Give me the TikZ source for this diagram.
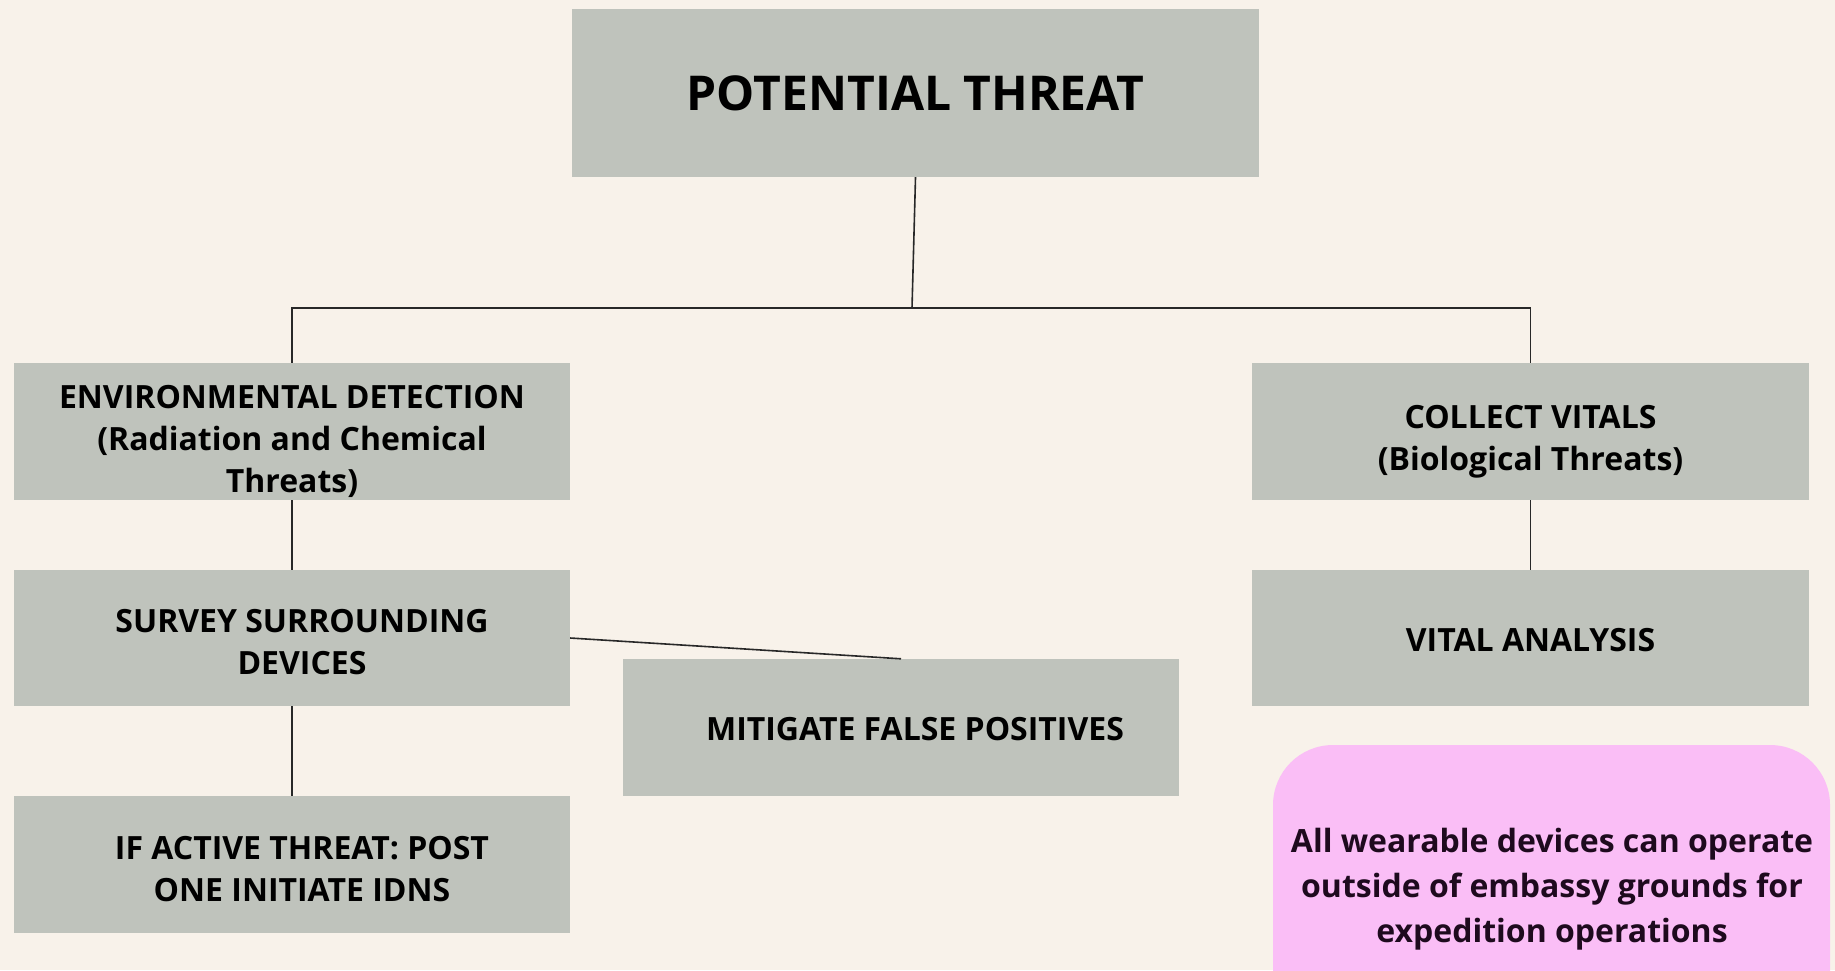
\documentclass[tikz,border=0pt]{standalone}
\usepackage{fontspec}
\setmainfont{Open Sans}
\definecolor{bg}{RGB}{248,242,234}
\definecolor{boxgray}{RGB}{191,195,188}
\definecolor{notepink}{RGB}{250,190,246}
\definecolor{linegray}{RGB}{40,40,40}
\begin{document}
\begin{tikzpicture}[x=1pt,y=-1pt,
  box/.style={fill=boxgray, draw=none, inner sep=0pt},
  txt/.style={inner sep=0pt, align=center,
    font=\bfseries\fontsize{32}{42}\selectfont, text=black},
  conn/.style={draw=linegray, line width=1.6pt}]
\fill[bg] (0,0) rectangle (1835,970);
\useasboundingbox (0,0) rectangle (1835,970);
% boxes
\node[box, minimum width=687pt, minimum height=168pt] (top) at (915.5,93) {};
\node[box, minimum width=556pt, minimum height=137pt] (env) at (292,431.5) {};
\node[box, minimum width=556pt, minimum height=136pt] (survey) at (292,638) {};
\node[box, minimum width=556pt, minimum height=137pt] (active) at (292,864.5) {};
\node[box, minimum width=556pt, minimum height=137pt] (mitig) at (901,727.5) {};
\node[box, minimum width=557pt, minimum height=137pt] (collect) at (1530.5,431.5) {};
\node[box, minimum width=557pt, minimum height=136pt] (vital) at (1530.5,638) {};
% texts
\node[txt, font=\bfseries\fontsize{48}{52}\selectfont] (topT) at (top.center) {POTENTIAL THREAT};
\node[txt, yshift=-10pt] (envT) at (env.center) {ENVIRONMENTAL DETECTION\\(Radiation and Chemical\\Threats)};
\node[txt, xshift=10pt, yshift=-4pt] (surveyT) at (survey.center) {SURVEY SURROUNDING\\DEVICES};
\node[txt, xshift=10pt, yshift=-5pt] (activeT) at (active.center) {IF ACTIVE THREAT: POST\\ONE INITIATE IDNS};
\node[txt, xshift=14pt, yshift=-2pt] (mitigT) at (mitig.center) {MITIGATE FALSE POSITIVES};
\node[txt, yshift=-10pt] (collectT) at (collect.center) {COLLECT VITALS\\(Biological Threats)};
\node[txt, yshift=-2pt] (vitalT) at (vital.center) {VITAL ANALYSIS};
% note
\begin{scope}
\clip (0,0) rectangle (1835,970);
\fill[notepink, rounded corners=60pt] (1273,745) rectangle (1830,1040);
\end{scope}
\node[txt, font=\bfseries\fontsize{32}{45}\selectfont, text={rgb,255:red,30;green,10;blue,30}] (note) at (1552,889) {All wearable devices can operate\\outside of embassy grounds for\\expedition operations};
% connectors
\coordinate (hub) at (912,308);
\draw[conn] (top.south) -- (hub);
\draw[conn] (env.north) |- (hub) -| (collect.north);
\draw[conn] (env.south) -- (survey.north);
\draw[conn] (survey.south) -- (active.north);
\draw[conn] (survey.east) -- (mitig.north);
\draw[conn] (collect.south) -- (vital.north);
\end{tikzpicture}
\end{document}
